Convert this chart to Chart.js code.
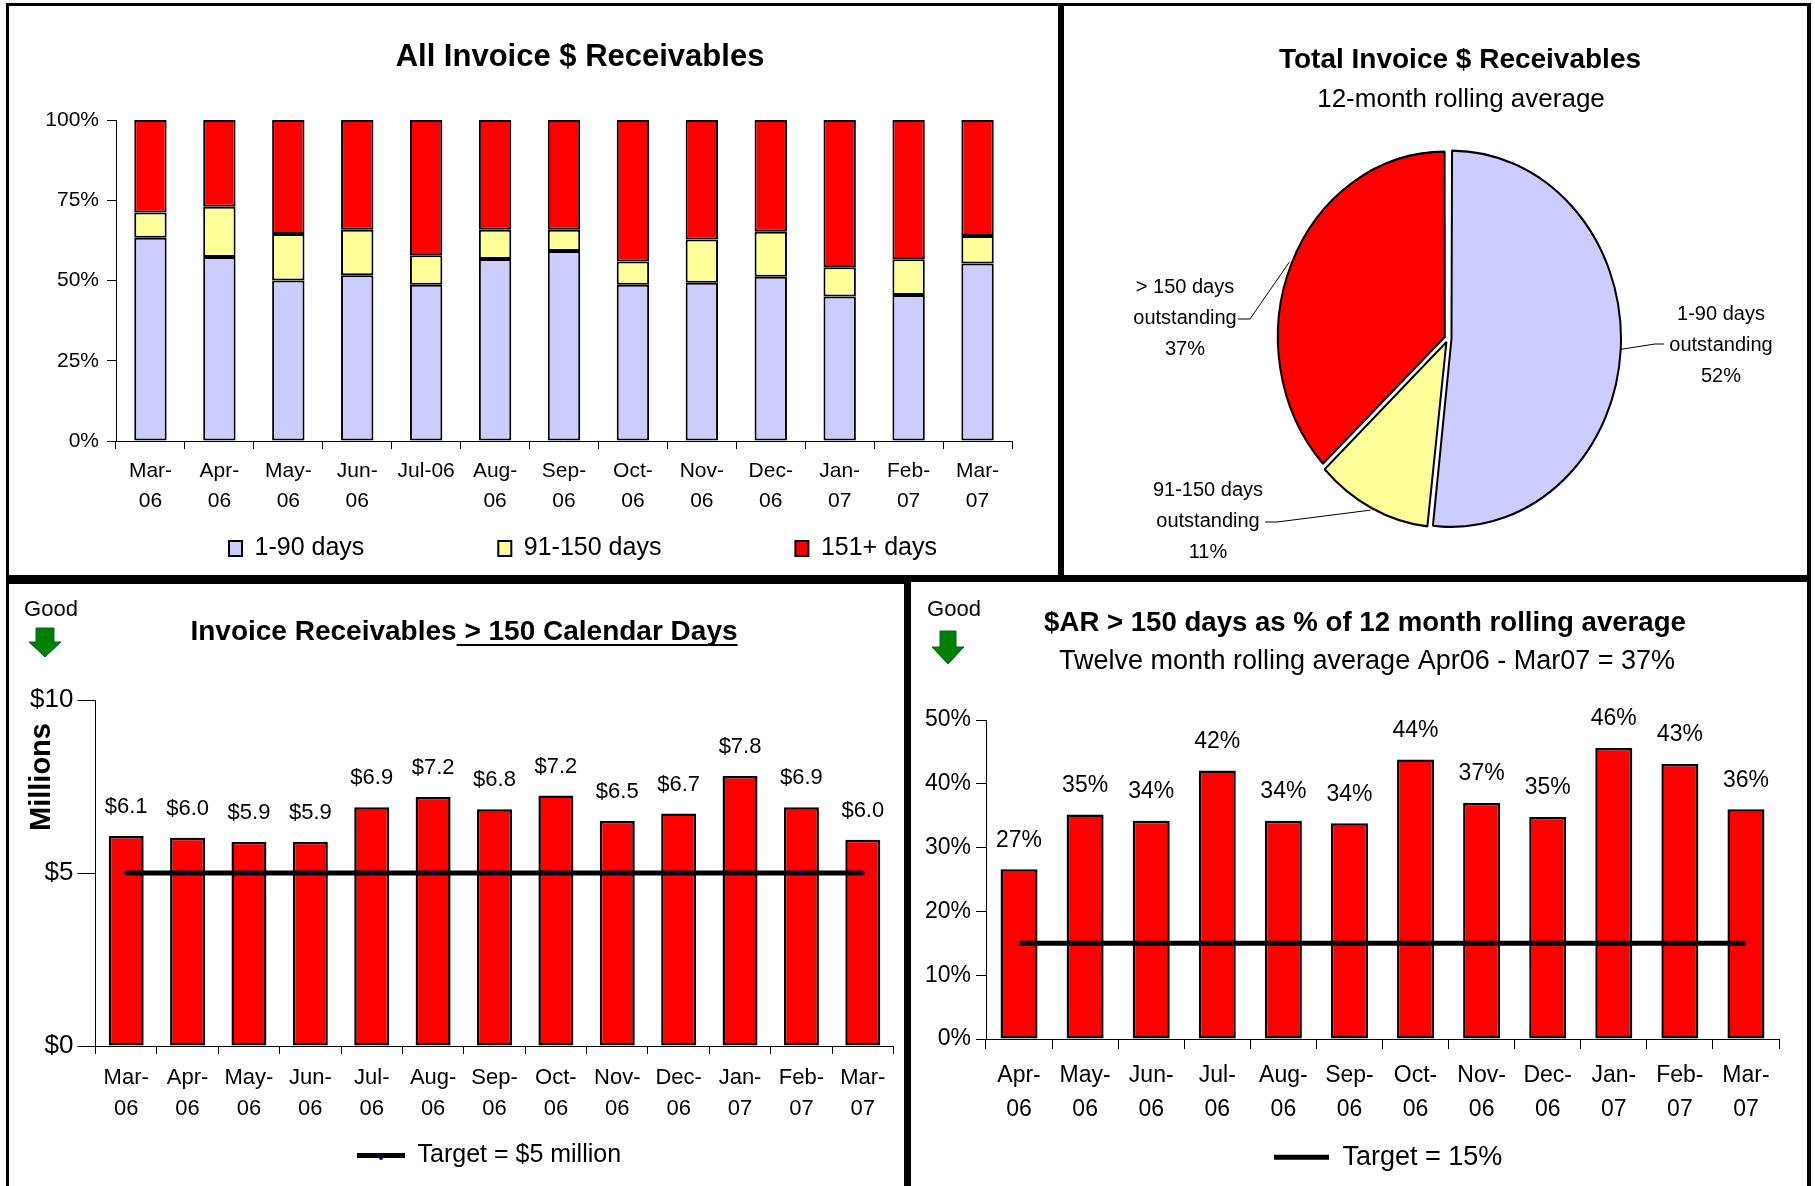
<!DOCTYPE html>
<html><head><meta charset="utf-8">
<script src="https://cdn.jsdelivr.net/npm/chart.js@4"></script>
<style>
html,body{margin:0;padding:0;background:#fff;width:1815px;height:1186px;overflow:hidden;font-family:"Liberation Sans",Arial,sans-serif;color:#000}
.panel{position:absolute;box-sizing:border-box;border:solid #000;background:#fff}
canvas{position:absolute;display:block}
.txt{position:absolute;white-space:nowrap;transform:translate(-50%,-50%)}
svg{position:absolute}
</style></head><body>
<div class="panel" style="left:6px;top:3px;width:1058px;height:579px;border-width:3px 6px 7px 3px"></div>
<div class="panel" style="left:1058px;top:3px;width:753px;height:579px;border-width:3px 4px 7px 6px"></div>
<div class="panel" style="left:6px;top:582px;width:902px;height:640px;border-width:2px 4px 3px 3px"></div>
<div class="panel" style="left:908px;top:575px;width:903px;height:650px;border-width:7px 4px 3px 3px"></div>
<canvas id="c1"></canvas><canvas id="c2"></canvas><canvas id="c3"></canvas><canvas id="c4"></canvas>
<div class="txt" style="left:51px;top:609px;font-size:22px">Good</div>
<div class="txt" style="left:954px;top:609px;font-size:22px">Good</div>
<div class="txt" style="left:40px;top:777px;font-size:29px;font-weight:bold;transform:translate(-50%,-50%) rotate(-90deg)">Millions</div>
<svg style="left:28px;top:627px" width="34" height="31" viewBox="0 0 34 31"><path d="M8 1H26V15H33L17 30L1 15H8Z" fill="#008000" stroke="#063" stroke-width="1"/></svg>
<svg style="left:931px;top:630px" width="34" height="35" viewBox="0 0 34 35"><path d="M9 1H25V17H33L17 34L1 17H9Z" fill="#008000" stroke="#063" stroke-width="1"/></svg>
<script>
// ---------- data ----------
const monthsAll = [['Mar-','06'],['Apr-','06'],['May-','06'],['Jun-','06'],'Jul-06',['Aug-','06'],['Sep-','06'],['Oct-','06'],['Nov-','06'],['Dec-','06'],['Jan-','07'],['Feb-','07'],['Mar-','07']];
const monthsDollar = [['Mar-','06'],['Apr-','06'],['May-','06'],['Jun-','06'],['Jul-','06'],['Aug-','06'],['Sep-','06'],['Oct-','06'],['Nov-','06'],['Dec-','06'],['Jan-','07'],['Feb-','07'],['Mar-','07']];
const monthsPct = [['Apr-','06'],['May-','06'],['Jun-','06'],['Jul-','06'],['Aug-','06'],['Sep-','06'],['Oct-','06'],['Nov-','06'],['Dec-','06'],['Jan-','07'],['Feb-','07'],['Mar-','07']];
const share1to90 = [63.3,57.3,50.0,51.6,48.7,56.7,59.2,48.7,49.3,51.2,45.0,45.5,55.3];
const share91to150 = [7.9,15.7,14.5,14.2,9.2,9.1,6.6,7.2,13.5,14.0,9.1,11.1,8.6];
const share151plus = [28.8,27.0,35.5,34.2,42.1,34.2,34.2,44.1,37.2,34.8,45.9,43.4,36.1];
const pieCategories = ['1-90 days','91-150 days','> 150 days'];
const pieValues = [51.8,11.2,37.0];
const arOver150 = [6.07,6.02,5.9,5.9,6.9,7.2,6.84,7.24,6.5,6.72,7.8,6.9,5.96];
const arTarget = [5,5,5,5,5,5,5,5,5,5,5,5,5];
const pctOver150 = [26.6,35.2,34.2,42.1,34.2,33.8,43.8,37.0,34.8,45.6,43.1,36.0];
const pctTarget = [15,15,15,15,15,15,15,15,15,15,15,15];

// ---------- colours and layout ----------
const BLUE='#ccccff', YELLOW='#ffff99', RED='#ff0000', INK='#000';
const FONT='"Liberation Sans", Arial, sans-serif';
Chart.defaults.font.family=FONT; Chart.defaults.color=INK; Chart.defaults.animation=false;

const placeBoxes={id:'placeBoxes',afterLayout(chart,a,o){
  const c=o.canvas;
  const blocks=chart.boxes.filter(b=>b.options&&typeof b.options.text==='string');
  const put=(b,p)=>{const w=b.width;b.left=p[0]-c.l-w/2;b.right=b.left+w;b.top=p[1]-c.t-b.options.font.size*0.6;b.bottom=b.top+b.height;};
  if(o.title)put(blocks.find(b=>b.options.text===chart.options.plugins.title.text),o.title);
  if(o.sub)put(blocks.find(b=>b.options.text===chart.options.plugins.subtitle.text),o.sub);
  if(o.legend&&chart.legend){const l=chart.legend,p=l.options.labels.padding,w=l.width;
    const itemH=Math.max(l.options.labels.boxHeight||0,l.options.labels.font.size*1.2);
    l.left=o.legend[0]-c.l-p;l.right=l.left+w;l.top=o.legend[1]-c.t-itemH/2-p;l.bottom=l.top+l.height;}
}};
const barLabels={id:'barLabels',afterDatasetsDraw(chart,a,o){
  if(!o.format)return;const ctx=chart.ctx,m=chart.getDatasetMeta(o.dataset||0),d=chart.data.datasets[o.dataset||0].data;
  ctx.save();ctx.font=o.size+'px '+FONT;ctx.fillStyle=INK;ctx.textAlign='center';ctx.textBaseline='middle';
  m.data.forEach((el,i)=>ctx.fillText(o.format(d[i]),el.x,el.y-o.gap));ctx.restore();
}};
const titleUnderline={id:'titleUnderline',afterDraw(chart,a,o){
  if(!o.prefix)return;const ctx=chart.ctx,b=chart.titleBlock,f=b.options.font;
  ctx.save();ctx.font='bold '+f.size+'px '+FONT;
  const full=ctx.measureText(b.options.text).width,pre=ctx.measureText(o.prefix).width,cx=(b.left+b.right)/2,x0=cx-full/2+pre;
  ctx.strokeStyle=INK;ctx.lineWidth=2;ctx.beginPath();ctx.moveTo(x0,o.y);ctx.lineTo(cx+full/2,o.y);ctx.stroke();ctx.restore();
}};
const legendDot={id:'legendDot',afterDraw(chart,a,o){
  if(!o.x)return;const ctx=chart.ctx;
  ctx.save();ctx.fillStyle=o.color;ctx.beginPath();ctx.arc(o.x,o.y,2,0,7);ctx.fill();ctx.restore();
}};
const pieEllipse={id:'pieEllipse',
  beforeDatasetsDraw(chart,a,o){const el=chart.getDatasetMeta(0).data[0],ctx=chart.ctx;ctx.save();ctx.translate(el.x,el.y);ctx.scale(1,o.sy);ctx.translate(-el.x,-el.y);},
  afterDatasetsDraw(chart,a,o){const ctx=chart.ctx;ctx.restore();
    const c=o.canvas;ctx.save();ctx.font=o.size+'px '+FONT;ctx.fillStyle=INK;ctx.strokeStyle=INK;ctx.lineWidth=1;ctx.textAlign='center';ctx.textBaseline='middle';
    chart.getDatasetMeta(0).data.forEach((el,i)=>{
      const mid=(el.startAngle+el.endAngle)/2,R=el.outerRadius+o.shift*2;
      const ax=el.x+Math.cos(mid)*R, ay=el.y+Math.sin(mid)*R*o.sy, co=o.callouts[i];
      ctx.beginPath();ctx.moveTo(ax,ay);ctx.lineTo(co.elbow[0]-c.l,co.elbow[1]-c.t);ctx.lineTo(co.end[0]-c.l,co.end[1]-c.t);ctx.stroke();
      [pieCategories[i],'outstanding',Math.round(pieValues[i])+'%'].forEach((t,k)=>ctx.fillText(t,co.text[0]-c.l,co.text[1]-c.t+k*o.leading));
    });ctx.restore();
  }};
const lineLegendItems=chart=>Chart.defaults.plugins.legend.labels.generateLabels(chart).map(i=>Object.assign(i,{lineWidth:5,strokeStyle:INK}));

function makeCartesian(id,cv,plot,cfg){
  const el=document.getElementById(id);
  el.width=cv.w;el.height=cv.h;el.style.left=cv.l+'px';el.style.top=cv.t+'px';
  const plugins={
    legend:{display:true,position:'bottom',align:'start',labels:cfg.legendLabels},
    title:{display:true,text:cfg.title,font:{size:cfg.titleSize,weight:'bold',lineHeight:1.2},color:INK,padding:0},
    subtitle:cfg.sub?{display:true,text:cfg.sub,font:{size:cfg.subSize,weight:'normal',lineHeight:1.2},color:INK,padding:0}:{display:false},
    tooltip:{enabled:false},
    placeBoxes:{canvas:cv,title:cfg.titlePos,sub:cfg.subPos,legend:cfg.legendPos},
    barLabels:cfg.barLabels||{},titleUnderline:cfg.underline||{},legendDot:cfg.dot||{}
  };
  const topUsed=cfg.titleSize*1.2+(cfg.sub?cfg.subSize*1.2:0);
  return new Chart(el,{type:'bar',data:{labels:cfg.labels,datasets:cfg.datasets},plugins:[placeBoxes,barLabels,titleUnderline,legendDot],options:{
    responsive:false,animation:false,devicePixelRatio:1,
    layout:{padding:{left:0,top:plot.t-cv.t-topUsed,right:cv.l+cv.w-plot.r,bottom:0}},
    plugins,
    scales:{
      x:{stacked:!!cfg.stacked,offset:true,
        grid:{drawOnChartArea:false,drawTicks:true,tickLength:cfg.xTick,color:INK,offset:true},border:{color:INK,width:1},
        ticks:{font:{size:cfg.xSize,lineHeight:cfg.xLine},color:INK,padding:cfg.xPad,autoSkip:false,maxRotation:0,minRotation:0},
        afterFit(s){s.height=cv.h-(plot.b-cv.t)-(s.chart.legend?s.chart.legend.height:0);}},
      y:{stacked:!!cfg.stacked,min:0,max:cfg.yMax,
        grid:{drawOnChartArea:false,drawTicks:true,tickLength:cfg.yTick,color:INK},border:{color:INK,width:1},
        ticks:{stepSize:cfg.yStep,font:{size:cfg.ySize},color:INK,padding:cfg.yPad,callback:cfg.yFmt},
        afterFit(s){s.width=plot.l-cv.l;}}
    }}});
}

// ---------- panel 1: stacked share ----------
makeCartesian('c1',{l:6,t:3,w:1056,h:800},{l:116,t:120,r:1012,b:441},{
  labels:monthsAll,stacked:true,
  datasets:[
    {label:'1-90 days',data:share1to90,backgroundColor:BLUE,borderColor:INK,borderWidth:2,borderSkipped:false,barPercentage:0.47,categoryPercentage:1},
    {label:'91-150 days',data:share91to150,backgroundColor:YELLOW,borderColor:INK,borderWidth:2,borderSkipped:false,barPercentage:0.47,categoryPercentage:1},
    {label:'151+ days',data:share151plus,backgroundColor:RED,borderColor:INK,borderWidth:2,borderSkipped:false,barPercentage:0.47,categoryPercentage:1}],
  title:'All Invoice $ Receivables',titleSize:31,titlePos:[580,57],
  legendLabels:{boxWidth:13,boxHeight:15,padding:134,font:{size:25},color:INK},legendPos:[229,551],
  xSize:21,xLine:1.43,xTick:8,xPad:7,ySize:21,yTick:9,yPad:8,yMax:100,yStep:25,yFmt:v=>v+'%'
});

// ---------- panel 2: pie ----------
(function(){
  const cv={l:1058,t:3,w:753,h:576},cx=1448,cy=338.5,R=186;
  const el=document.getElementById('c2');el.width=cv.w;el.height=cv.h;el.style.left=cv.l+'px';el.style.top=cv.t+'px';
  const ts=28,ss=26,used=(ts+ss)*1.2;
  new Chart(el,{type:'pie',data:{labels:pieCategories,datasets:[{data:pieValues,backgroundColor:[BLUE,YELLOW,RED],borderColor:INK,borderWidth:2,offset:14,radius:166}]},
    plugins:[placeBoxes,pieEllipse],
    options:{responsive:false,animation:false,devicePixelRatio:1,
      layout:{padding:{left:cx-R-cv.l,right:cv.l+cv.w-cx-R,top:cy-R-cv.t-used,bottom:cv.t+cv.h-cy-R}},
      plugins:{legend:{display:false},tooltip:{enabled:false},
        title:{display:true,text:'Total Invoice $ Receivables',font:{size:ts,weight:'bold',lineHeight:1.2},color:INK,padding:0},
        subtitle:{display:true,text:'12-month rolling average',font:{size:ss,weight:'normal',lineHeight:1.2},color:INK,padding:0},
        placeBoxes:{canvas:cv,title:[1460,60],sub:[1461,100]},
        pieEllipse:{canvas:cv,sy:1.11,shift:3.5,size:20,leading:31,callouts:[
          {elbow:[1655,344],end:[1664,344],text:[1721,314]},
          {elbow:[1277,522],end:[1265,522],text:[1208,490]},
          {elbow:[1250,319],end:[1238,319],text:[1185,287]}]}
      }}});
})();

// ---------- panel 3: dollars ----------
makeCartesian('c3',{l:6,t:582,w:900,h:604},{l:95.5,t:700,r:893.5,b:1046},{
  labels:monthsDollar,
  datasets:[
    {type:'line',label:'Target = $5 million',data:arTarget,borderColor:INK,backgroundColor:INK,borderWidth:5,pointRadius:2,pointBackgroundColor:'#000080',pointBorderWidth:0,order:0},
    {label:'Invoice Receivables > 150 Calendar Days',data:arOver150,backgroundColor:RED,borderColor:INK,borderWidth:2.5,borderSkipped:false,barPercentage:0.57,categoryPercentage:1,order:1}],
  title:'Invoice Receivables > 150 Calendar Days',titleSize:28,titlePos:[464,632],
  underline:{prefix:'Invoice Receivables',y:645-582},
  legendLabels:{usePointStyle:true,pointStyle:'line',pointStyleWidth:48,padding:10,font:{size:25},color:INK,generateLabels:lineLegendItems,filter:i=>i.text.startsWith('Target')},legendPos:[357,1158],
  dot:{color:'#000080',x:381-6,y:1158-582},
  barLabels:{dataset:1,format:v=>'$'+v.toFixed(1),size:22,gap:29},
  xSize:22,xLine:1.41,xTick:8,xPad:8,ySize:26,yTick:18,yPad:4,yMax:10,yStep:5,yFmt:v=>'$'+v
});

// ---------- panel 4: percent ----------
makeCartesian('c4',{l:909,t:579,w:901,h:607},{l:986,t:720,r:1779,b:1039},{
  labels:monthsPct,
  datasets:[
    {type:'line',label:'Target = 15%',data:pctTarget,borderColor:INK,backgroundColor:INK,borderWidth:5,pointRadius:0,order:0},
    {label:'$AR > 150 days',data:pctOver150,backgroundColor:RED,borderColor:INK,borderWidth:2.5,borderSkipped:false,barPercentage:0.56,categoryPercentage:1,order:1}],
  title:'$AR > 150 days as % of 12 month rolling average',titleSize:27.6,titlePos:[1365,623],
  sub:'Twelve month rolling average Apr06 - Mar07 = 37%',subSize:27,subPos:[1367,662],
  legendLabels:{usePointStyle:true,pointStyle:'line',pointStyleWidth:55,padding:10,font:{size:27},color:INK,generateLabels:lineLegendItems,filter:i=>i.text.startsWith('Target')},legendPos:[1274,1160],
  barLabels:{dataset:1,format:v=>Math.round(v)+'%',size:23,gap:29},
  xSize:23,xLine:1.48,xTick:10,xPad:10,ySize:23,yTick:10,yPad:5,yMax:50,yStep:10,yFmt:v=>v+'%'
});
</script>
</body></html>
